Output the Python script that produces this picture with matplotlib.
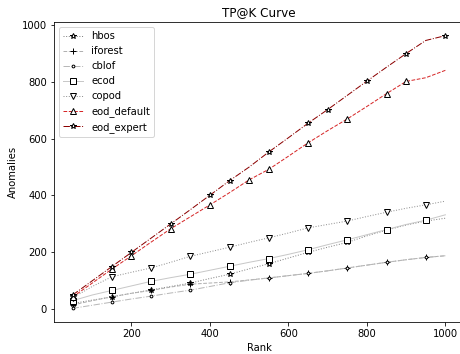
import matplotlib
matplotlib.use("Agg")
import matplotlib.pyplot as plt

# Rank cut-offs (K) and number of true anomalies found in the top-K
rank = [50, 100, 150, 200, 250, 300, 350, 400, 450, 500,
        550, 600, 650, 700, 750, 800, 850, 900, 950, 1000]

hbos = [20, 32, 43, 56, 68, 80, 92, 108, 123, 142,
        160, 180, 200, 218, 235, 258, 278, 296, 310, 320]
iforest = [15, 30, 44, 56, 66, 78, 88, 92, 96, 103,
           110, 118, 126, 135, 145, 155, 165, 174, 182, 188]
cblof = [3, 14, 25, 36, 46, 57, 67, 80, 93, 102,
         110, 118, 126, 135, 145, 155, 165, 174, 182, 188]
ecod = [30, 50, 66, 82, 98, 111, 123, 137, 151, 165,
        178, 193, 209, 227, 244, 262, 280, 298, 313, 332]
copod = [40, 80, 114, 130, 145, 165, 186, 202, 218, 235,
         251, 268, 286, 298, 310, 326, 341, 355, 367, 380]
eod_default = [43, 92, 141, 188, 236, 283, 325, 367, 410, 455,
               492, 538, 585, 628, 669, 713, 758, 801, 814, 840]
eod_expert = [50, 100, 150, 200, 250, 300, 350, 401, 452, 500,
              553, 603, 654, 702, 752, 802, 851, 899, 945, 962]

series = [
    ("hbos", hbos, ":", "#808080", "*"),
    ("iforest", iforest, "--", "#b0b0b0", "+"),
    ("cblof", cblof, "-.", "#b8b8b8", "."),
    ("ecod", ecod, "-", "#c8c8c8", "s"),
    ("copod", copod, ":", "#909090", "v"),
    ("eod_default", eod_default, "--", "#d62728", "^"),
    ("eod_expert", eod_expert, "-.", "#8b0000", "*"),
]

fig = plt.figure(figsize=(460 / 72, 354 / 72), dpi=72)
ax = fig.add_axes([54 / 460, 32 / 354, 410 / 460, 300 / 354])
ax.spines["right"].set_visible(False)

for name, vals, ls, color, marker in series:
    ax.plot(rank, vals, linestyle=ls, color=color, linewidth=1.0,
            marker=marker, markersize=5.5, markerfacecolor="white",
            markeredgecolor="black", markeredgewidth=1.0,
            markevery=0.08, label=name)

ax.set_title("TP@K Curve")
ax.set_xlabel("Rank")
ax.set_ylabel("Anomalies")
ax.set_xticks([200, 400, 600, 800, 1000])
ax.set_yticks([0, 200, 400, 600, 800, 1000])
ax.legend(loc="upper left")

fig.savefig("out.png", dpi=72)
